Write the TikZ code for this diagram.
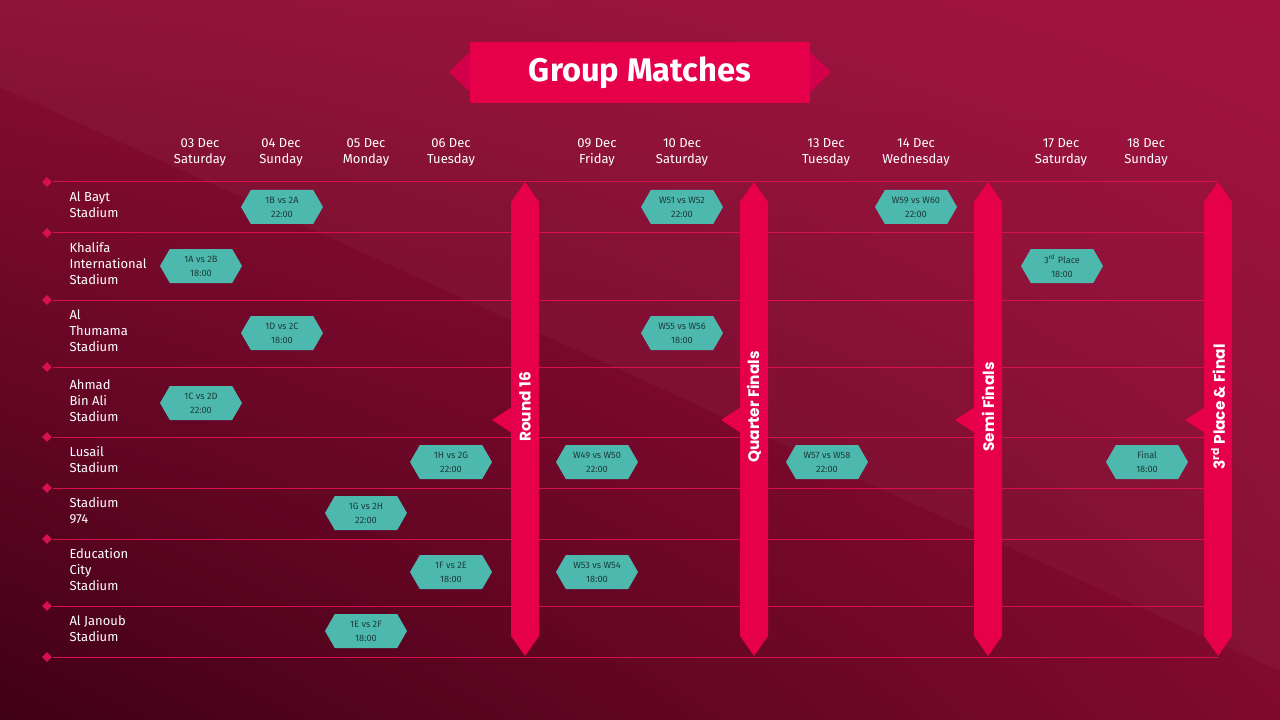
\documentclass[tikz,border=0pt]{standalone}
\usepackage{fontspec}
\setmainfont{Fira Sans}
\newfontfamily\bannerfont{Poppins}
\usetikzlibrary{shapes.geometric,shapes.symbols,shadings}

\definecolor{bgUL}{HTML}{8C0D33}
\definecolor{bgUR}{HTML}{A00C3B}
\definecolor{bgLL}{HTML}{3F0016}
\definecolor{bgLR}{HTML}{800A2E}
\definecolor{ribbonred}{HTML}{E6004C}
\definecolor{ribbondark}{HTML}{D2004A}
\definecolor{gridred}{HTML}{D8104E}
\definecolor{matchteal}{HTML}{4DB8AD}
\definecolor{matchtext}{HTML}{1D3B3A}

\tikzset{every picture/.style={line width=0.75pt}}
\tikzset{
  gridline/.style={draw=gridred, line width=0.75pt},
  rowmark/.style={diamond, fill=gridred, inner sep=0pt, minimum size=7.5pt},
  dayhead/.style={text=white, align=center, font=\fontsize{9.75}{12}\selectfont},
  venue/.style={text=white, align=left, anchor=west, inner sep=0pt, font=\fontsize{9.75}{12}\selectfont},
  match/.style={signal, signal to=east and west, signal pointer angle=120,
    fill=matchteal, text=matchtext, inner sep=0pt, align=center,
    minimum width=61.5pt, minimum height=25.5pt,
    font=\fontsize{6.9}{10.5}\selectfont},
  roundlabel/.style={text=white, rotate=90, font=\bannerfont\bfseries\fontsize{11.5}{12}\selectfont},
}

\begin{document}
\begin{tikzpicture}[x=0.75pt,y=0.75pt,yscale=-1,xscale=1]
	\useasboundingbox (0,0) rectangle (1280,720);

	%Background
	\shade[upper left=bgUL, upper right=bgUR, lower left=bgLL, lower right=bgLR] (0,0) rectangle (1280,720);
	\fill[white, opacity=0.03] (0,0) -- (1280,0) -- (1280,671) -- (0,87) -- cycle;

	%Title ribbon
	\fill[ribbondark] (472,50) -- (449,72) -- (472,94) -- cycle;
	\fill[ribbondark] (808,50) -- (831,72) -- (808,94) -- cycle;
	\node[fill=ribbonred, text=white, minimum width=255pt, minimum height=45.75pt, font=\bfseries\fontsize{24.5}{26}\selectfont] (title) at (640,72.5) {Group Matches};

	%Grid lines with row markers
	\foreach \i/\y in {1/182,2/233,3/300,4/367,5/437,6/488,7/539,8/606,9/657}{
		\node[rowmark] (mk\i) at (47,\y) {};
		\coordinate (end\i) at (1218,\y);
		\draw[gridline] (mk\i) -- (end\i);
	}

	%Day headers
	\node[dayhead] (d03) at (200,152) {03 Dec\\Saturday};
	\node[dayhead] (d04) at (281,152) {04 Dec\\Sunday};
	\node[dayhead] (d05) at (366,152) {05 Dec\\Monday};
	\node[dayhead] (d06) at (451,152) {06 Dec\\Tuesday};
	\node[dayhead] (d09) at (597,152) {09 Dec\\Friday};
	\node[dayhead] (d10) at (682,152) {10 Dec\\Saturday};
	\node[dayhead] (d13) at (826,152) {13 Dec\\Tuesday};
	\node[dayhead] (d14) at (916,152) {14 Dec\\Wednesday};
	\node[dayhead] (d17) at (1061,152) {17 Dec\\Saturday};
	\node[dayhead] (d18) at (1146,152) {18 Dec\\Sunday};

	%Stadiums
	\node[venue] (albayt) at (69,205) {Al Bayt\\Stadium};
	\node[venue] (khalifa) at (69,264) {Khalifa\\International\\Stadium};
	\node[venue] (thumama) at (69,331) {Al\\Thumama\\Stadium};
	\node[venue] (ahmad) at (69,401) {Ahmad\\Bin Ali\\Stadium};
	\node[venue] (lusail) at (69,460) {Lusail\\Stadium};
	\node[venue] (st974) at (69,511) {Stadium\\974};
	\node[venue] (educity) at (69,570) {Education\\City\\Stadium};
	\node[venue] (janoub) at (69,629) {Al Janoub\\Stadium};

	%Round banners
	\foreach \bx/\bname/\btext in {525/r16/Round 16, 754/qf/Quarter Finals, 988/sf/Semi Finals, 1218/fin/3\textsuperscript{rd} Place \& Final}{
		\fill[ribbonred] (\bx,182) -- (\bx+14,202) -- (\bx+14,636) -- (\bx,656) -- (\bx-14,636) -- (\bx-14,202) -- cycle;
		\fill[ribbonred] (\bx-13,407) -- (\bx-33,420) -- (\bx-13,433) -- cycle;
		\node[roundlabel] (\bname) at (\bx,407) {\btext};
	}

	%Matches
	\node[match] (m1b2a) at (282,207) {1B vs 2A\\22:00};
	\node[match] (w51w52) at (682,207) {W51 vs W52\\22:00};
	\node[match] (w59w60) at (916,207) {W59 vs W60\\22:00};
	\node[match] (m1a2b) at (201,266) {1A vs 2B\\18:00};
	\node[match] (third) at (1062,266) {3\textsuperscript{rd} Place\\18:00};
	\node[match] (m1d2c) at (282,333) {1D vs 2C\\18:00};
	\node[match] (w55w56) at (682,333) {W55 vs W56\\18:00};
	\node[match] (m1c2d) at (201,403) {1C vs 2D\\22:00};
	\node[match] (m1h2g) at (451,462) {1H vs 2G\\22:00};
	\node[match] (w49w50) at (597,462) {W49 vs W50\\22:00};
	\node[match] (w57w58) at (827,462) {W57 vs W58\\22:00};
	\node[match] (final) at (1147,462) {Final\\18:00};
	\node[match] (m1g2h) at (366,513) {1G vs 2H\\22:00};
	\node[match] (m1f2e) at (451,572) {1F vs 2E\\18:00};
	\node[match] (w53w54) at (597,572) {W53 vs W54\\18:00};
	\node[match] (m1e2f) at (366,631) {1E vs 2F\\18:00};

\end{tikzpicture}
\end{document}
